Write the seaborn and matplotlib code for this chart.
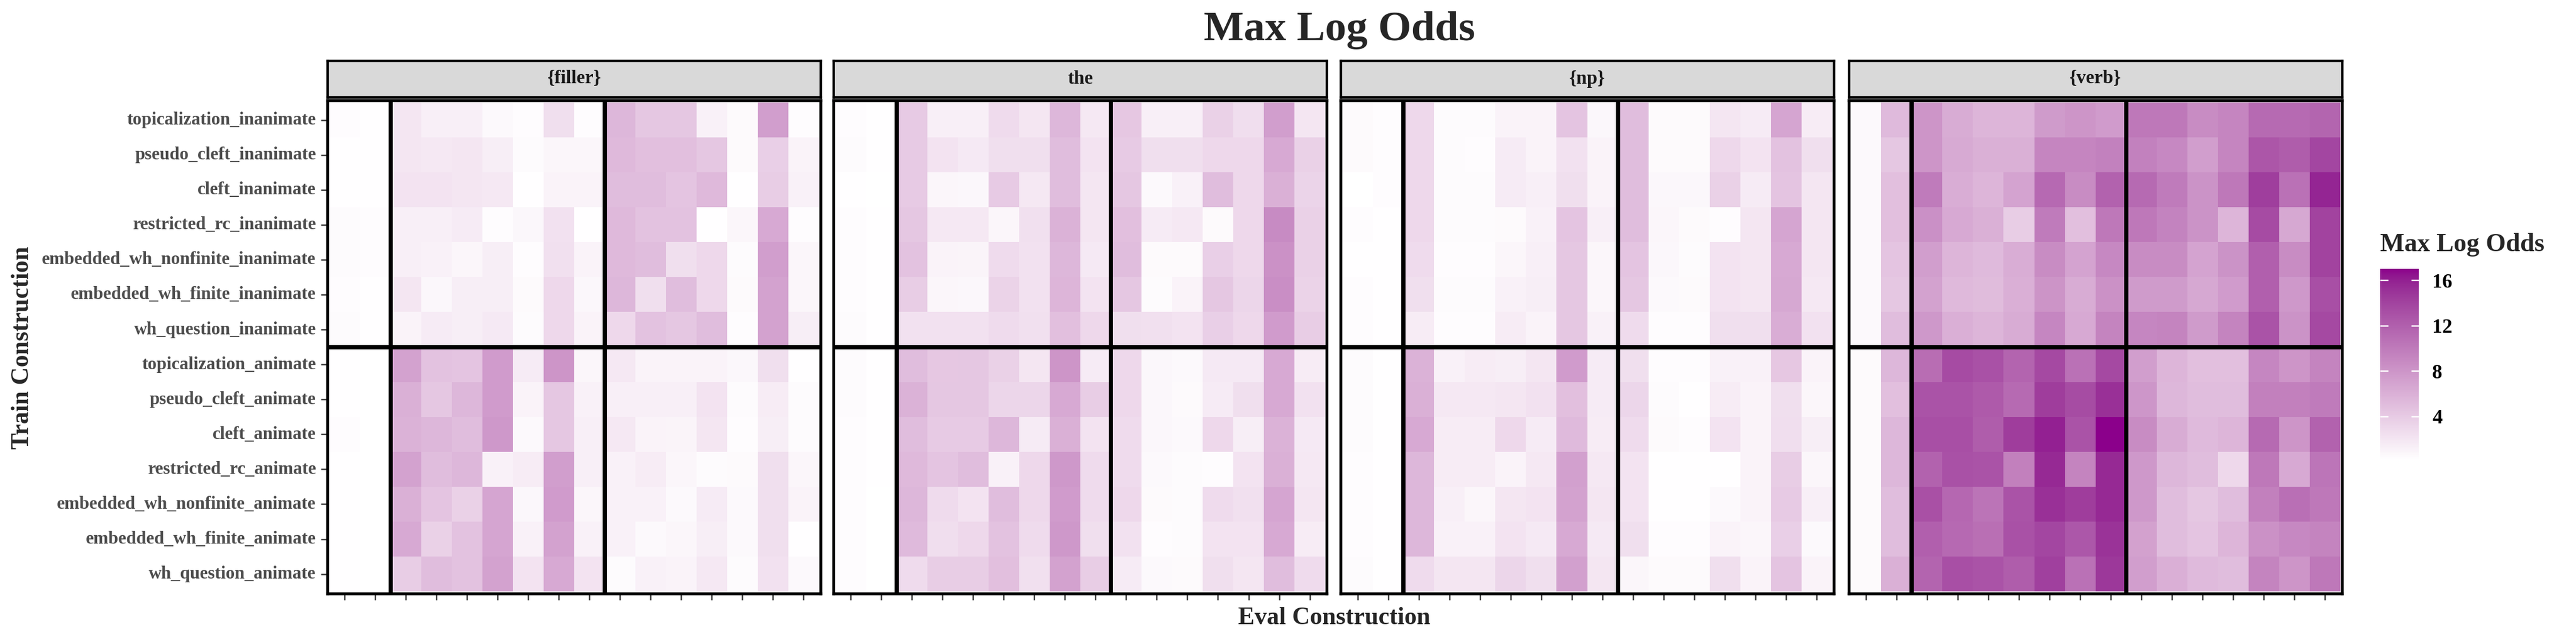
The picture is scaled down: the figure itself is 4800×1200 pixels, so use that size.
import numpy as np
import pandas as pd
import matplotlib
matplotlib.use("Agg")
import matplotlib.pyplot as plt
import seaborn as sns
from matplotlib.colors import ListedColormap, Normalize, to_rgb
from matplotlib.cm import ScalarMappable

train_constructions = [
    "topicalization_inanimate", "pseudo_cleft_inanimate", "cleft_inanimate",
    "restricted_rc_inanimate", "embedded_wh_nonfinite_inanimate",
    "embedded_wh_finite_inanimate", "wh_question_inanimate",
    "topicalization_animate", "pseudo_cleft_animate", "cleft_animate",
    "restricted_rc_animate", "embedded_wh_nonfinite_animate",
    "embedded_wh_finite_animate", "wh_question_animate",
]
panel_names = ["{filler}", "the", "{np}", "{verb}"]
colorbar_ticks = [4, 8, 12, 16]

# max log odds, rows = train construction, 16 eval columns (unlabelled)
filler_vals = [
    [0.3, 0.2, 2.0, 1.3, 1.3, 0.6, 0.3, 2.5, 0.3, 5.5, 4.3, 4.3, 1.2, 0.5, 7.3, 0.3],
    [0.2, 0.2, 2.0, 1.8, 2.0, 1.4, 0.4, 0.8, 0.8, 5.3, 4.8, 4.8, 4.3, 0.5, 3.6, 1.0],
    [0.2, 0.2, 2.2, 2.2, 2.0, 1.8, 0.2, 1.0, 1.0, 5.0, 5.0, 4.5, 5.3, 0.2, 3.8, 1.2],
    [0.4, 0.3, 1.3, 1.3, 1.6, 0.3, 0.7, 2.3, 0.2, 5.3, 4.6, 4.6, 0.2, 0.8, 6.5, 0.3],
    [0.4, 0.3, 1.3, 1.2, 0.8, 1.4, 0.3, 2.4, 1.0, 5.3, 5.0, 2.5, 3.0, 0.4, 7.3, 0.8],
    [0.3, 0.2, 2.0, 0.7, 1.4, 1.4, 0.5, 3.0, 0.7, 5.5, 2.5, 5.0, 3.0, 0.5, 7.0, 0.8],
    [0.4, 0.2, 1.0, 1.6, 1.4, 1.7, 0.4, 3.0, 1.0, 3.0, 4.6, 4.3, 5.0, 0.3, 7.0, 1.4],
    [0.2, 0.1, 7.0, 4.6, 4.5, 7.5, 1.6, 8.0, 0.8, 1.8, 1.0, 1.0, 1.0, 0.7, 2.5, 0.2],
    [0.2, 0.1, 6.0, 4.3, 5.5, 7.5, 1.0, 4.3, 1.2, 1.3, 1.3, 1.3, 2.2, 0.4, 1.5, 0.4],
    [0.3, 0.1, 5.8, 5.5, 5.0, 7.8, 0.6, 4.3, 1.3, 1.8, 1.0, 0.9, 2.0, 0.3, 1.4, 0.4],
    [0.2, 0.1, 7.0, 5.0, 5.5, 1.2, 1.5, 7.3, 1.3, 1.2, 1.5, 0.8, 0.4, 0.5, 2.5, 0.8],
    [0.2, 0.1, 6.0, 4.5, 3.5, 6.8, 0.7, 7.5, 0.8, 1.2, 1.2, 0.6, 1.6, 0.6, 2.5, 1.0],
    [0.2, 0.1, 6.5, 3.5, 4.6, 6.8, 1.2, 7.0, 1.2, 1.2, 0.6, 0.8, 1.4, 0.6, 2.5, 0.2],
    [0.2, 0.1, 3.8, 5.0, 4.6, 7.0, 2.2, 6.5, 2.2, 0.4, 1.2, 1.0, 1.8, 0.4, 2.3, 0.6],
]
the_vals = [
    [0.3, 0.2, 4.0, 1.3, 1.3, 2.8, 2.0, 5.5, 1.8, 4.2, 1.3, 1.3, 3.5, 2.6, 7.3, 2.0],
    [0.4, 0.2, 4.0, 2.2, 1.7, 2.5, 2.5, 5.0, 2.2, 4.0, 2.5, 2.5, 3.0, 3.0, 6.5, 3.5],
    [0.2, 0.1, 4.0, 0.8, 0.7, 4.0, 1.8, 5.0, 2.0, 4.3, 0.6, 1.2, 5.0, 3.0, 6.0, 3.3],
    [0.3, 0.2, 4.3, 1.8, 1.8, 0.8, 2.4, 5.8, 2.0, 4.8, 1.6, 1.8, 0.5, 3.0, 8.8, 3.5],
    [0.3, 0.2, 4.6, 1.0, 0.9, 2.8, 2.3, 5.5, 1.7, 5.0, 0.5, 0.5, 3.6, 3.0, 8.3, 3.5],
    [0.3, 0.2, 3.8, 0.8, 0.7, 3.4, 2.3, 5.6, 2.2, 4.3, 0.4, 1.0, 4.3, 3.2, 8.5, 3.4],
    [0.4, 0.2, 2.3, 2.3, 2.3, 2.8, 2.4, 4.8, 3.0, 2.5, 2.4, 2.2, 3.6, 3.0, 7.5, 3.8],
    [0.4, 0.2, 5.0, 4.2, 4.3, 3.5, 2.0, 8.0, 1.6, 3.0, 0.7, 0.6, 1.7, 1.7, 6.5, 1.5],
    [0.4, 0.2, 5.8, 4.3, 4.3, 3.2, 3.2, 6.5, 3.8, 3.0, 0.7, 0.5, 1.6, 2.5, 6.5, 2.3],
    [0.3, 0.2, 5.0, 4.0, 4.0, 5.5, 1.6, 6.0, 2.2, 2.8, 0.7, 0.6, 3.0, 1.4, 5.8, 1.7],
    [0.3, 0.2, 5.3, 4.5, 5.0, 1.2, 3.0, 7.8, 2.8, 2.8, 0.6, 0.4, 0.3, 2.2, 6.0, 1.8],
    [0.3, 0.1, 5.5, 2.8, 2.2, 5.0, 3.0, 7.5, 2.8, 3.0, 0.5, 0.4, 2.8, 2.4, 6.8, 2.0],
    [0.3, 0.1, 5.2, 2.6, 3.0, 4.6, 2.8, 7.8, 2.5, 2.3, 0.3, 0.4, 2.2, 2.2, 6.5, 1.5],
    [0.3, 0.1, 2.8, 3.8, 3.8, 4.8, 2.4, 7.0, 3.8, 1.6, 0.6, 0.5, 2.5, 2.0, 5.0, 2.8],
]
np_vals = [
    [0.5, 0.3, 3.0, 0.4, 0.4, 1.0, 1.0, 4.5, 0.7, 5.0, 0.5, 0.5, 2.0, 1.6, 6.8, 1.5],
    [0.5, 0.3, 3.0, 0.4, 0.3, 1.6, 1.0, 2.3, 1.0, 5.0, 0.5, 0.5, 3.0, 2.2, 4.6, 2.5],
    [0.1, 0.3, 3.0, 0.4, 0.4, 1.6, 1.3, 2.5, 1.0, 5.0, 0.7, 0.7, 3.5, 1.6, 4.5, 2.0],
    [0.3, 0.2, 3.0, 0.4, 0.4, 0.5, 1.2, 4.5, 1.3, 5.0, 0.8, 0.5, 0.3, 2.0, 6.8, 2.0],
    [0.2, 0.2, 2.8, 0.3, 0.3, 0.8, 1.3, 4.3, 0.8, 4.5, 0.7, 0.4, 2.2, 2.0, 6.5, 2.0],
    [0.3, 0.2, 2.5, 0.4, 0.4, 1.2, 1.4, 4.3, 0.8, 4.3, 0.6, 0.5, 2.2, 2.0, 6.6, 1.8],
    [0.3, 0.2, 1.5, 0.3, 0.3, 1.5, 1.0, 4.3, 1.2, 2.8, 0.3, 0.3, 2.5, 2.5, 6.2, 2.3],
    [0.4, 0.2, 5.8, 1.2, 1.5, 1.4, 2.0, 7.5, 1.6, 2.5, 0.3, 0.3, 1.2, 1.2, 4.2, 1.0],
    [0.4, 0.2, 6.0, 1.8, 1.8, 2.0, 2.3, 4.8, 1.6, 3.2, 0.4, 0.2, 1.5, 1.0, 2.5, 0.8],
    [0.4, 0.2, 6.5, 1.5, 1.5, 3.0, 1.6, 5.2, 1.5, 2.8, 0.5, 0.3, 2.2, 1.0, 2.6, 1.4],
    [0.3, 0.2, 5.5, 1.5, 1.5, 1.0, 1.8, 7.2, 1.8, 2.2, 0.2, 0.2, 0.2, 1.0, 3.8, 0.8],
    [0.3, 0.2, 5.5, 1.3, 0.8, 2.0, 2.2, 7.0, 2.0, 2.2, 0.2, 0.2, 0.6, 1.0, 4.0, 1.3],
    [0.3, 0.2, 5.5, 1.2, 1.2, 2.2, 1.7, 6.5, 1.7, 2.5, 0.3, 0.3, 1.0, 0.8, 3.6, 0.6],
    [0.4, 0.2, 2.8, 2.0, 2.0, 3.2, 2.5, 7.2, 2.0, 0.8, 0.5, 0.5, 2.5, 1.0, 4.5, 1.0],
]
verb_vals = [
    [0.6, 5.2, 8.0, 6.3, 5.6, 5.6, 7.6, 8.0, 7.5, 10.2, 10.2, 8.7, 9.2, 11.2, 11.2, 11.6],
    [0.6, 4.3, 8.0, 6.4, 6.0, 6.0, 9.2, 9.2, 9.5, 9.5, 9.0, 7.3, 9.2, 12.7, 12.2, 13.8],
    [0.6, 4.8, 10.0, 6.2, 5.6, 6.9, 11.3, 8.7, 11.8, 11.2, 10.0, 8.2, 10.2, 14.3, 10.7, 15.8],
    [0.6, 4.8, 8.4, 6.5, 6.0, 3.8, 10.0, 4.8, 10.2, 10.2, 9.4, 8.2, 5.6, 13.5, 6.6, 14.0],
    [0.6, 4.5, 7.3, 5.6, 5.2, 6.2, 8.7, 6.9, 9.0, 8.7, 8.7, 6.9, 8.2, 12.0, 8.7, 14.0],
    [0.6, 4.3, 7.0, 5.3, 5.1, 6.1, 8.1, 6.3, 8.3, 7.6, 7.6, 6.6, 7.5, 12.0, 7.8, 13.2],
    [0.6, 5.0, 7.8, 6.1, 5.6, 6.3, 9.1, 6.5, 9.3, 9.1, 9.3, 7.6, 9.3, 12.9, 8.2, 13.6],
    [0.5, 5.5, 11.0, 13.5, 13.0, 11.7, 13.6, 10.7, 13.6, 7.3, 5.6, 4.8, 4.8, 9.1, 8.0, 9.3],
    [0.5, 4.8, 12.9, 12.9, 12.4, 11.2, 14.4, 13.4, 15.2, 7.9, 5.5, 5.0, 5.0, 9.6, 9.6, 10.0],
    [0.5, 5.5, 13.2, 13.2, 12.2, 14.4, 16.0, 12.9, 17.0, 8.7, 6.3, 5.2, 5.6, 11.2, 8.0, 11.8],
    [0.5, 5.5, 11.8, 13.0, 12.9, 9.6, 15.6, 9.3, 15.6, 7.8, 5.5, 5.0, 3.0, 10.2, 6.5, 10.4],
    [0.5, 5.0, 13.1, 11.4, 10.5, 12.9, 15.2, 14.4, 15.6, 7.8, 5.0, 4.3, 5.0, 9.6, 10.8, 10.2],
    [0.5, 5.0, 12.0, 11.3, 10.9, 13.0, 13.8, 12.6, 15.0, 7.1, 5.0, 4.5, 5.6, 8.3, 9.0, 9.3],
    [0.5, 6.0, 11.7, 13.2, 12.9, 12.2, 14.2, 10.7, 14.7, 7.3, 6.1, 5.2, 5.0, 9.3, 8.0, 10.2],
]
panel_vals = [filler_vals, the_vals, np_vals, verb_vals]


# white -> darkmagenta gradient interpolated in CIE Lab (like ggplot)
WHITE_REF = np.array([0.95047, 1.0, 1.08883])
M_XYZ = np.array([[0.4124564, 0.3575761, 0.1804375],
                  [0.2126729, 0.7151522, 0.0721750],
                  [0.0193339, 0.1191920, 0.9503041]])


def to_lab(color):
    rgb = np.array(to_rgb(color))
    lin = np.where(rgb <= 0.04045, rgb / 12.92, ((rgb + 0.055) / 1.055) ** 2.4)
    t = (M_XYZ @ lin) / WHITE_REF
    f = np.where(t > (6 / 29) ** 3, np.cbrt(t), t / (3 * (6 / 29) ** 2) + 4 / 29)
    return np.array([116 * f[1] - 16, 500 * (f[0] - f[1]), 200 * (f[1] - f[2])])


def from_lab(lab):
    fy = (lab[:, 0] + 16) / 116
    f = np.stack([fy + lab[:, 1] / 500, fy, fy - lab[:, 2] / 200], axis=1)
    t = np.where(f > 6 / 29, f ** 3, 3 * (6 / 29) ** 2 * (f - 4 / 29)) * WHITE_REF
    lin = t @ np.linalg.inv(M_XYZ).T
    rgb = np.where(lin <= 0.0031308, 12.92 * lin, 1.055 * np.clip(lin, 0, None) ** (1 / 2.4) - 0.055)
    return np.clip(rgb, 0, 1)


w = np.linspace(0, 1, 256)[:, None]
cmap = ListedColormap(from_lab((1 - w) * to_lab("white") + w * to_lab("darkmagenta")))

all_vals = np.concatenate([np.array(v) for v in panel_vals])
norm = Normalize(vmin=all_vals.min(), vmax=all_vals.max())

sns.set_theme(style="white")
plt.rcParams["font.family"] = ["Liberation Serif", "DejaVu Serif"]
plt.rcParams["font.weight"] = "bold"

fig = plt.figure(figsize=(16, 4), dpi=300)
lefts = [0.1271, 0.3236, 0.5204, 0.7177]
pw = 0.1915
pb, ph = 0.0783, 0.7658

for i, (name, vals) in enumerate(zip(panel_names, panel_vals)):
    df = pd.DataFrame(vals, index=train_constructions)
    ax = fig.add_axes([lefts[i], pb, pw, ph])
    sns.heatmap(df, ax=ax, cmap=cmap, norm=norm, cbar=False,
                xticklabels=True, yticklabels=True)
    ax.set_xlim(-0.06, df.shape[1] + 0.06)
    ax.set_ylim(df.shape[0] + 0.06, -0.06)
    ax.set_xlabel("")
    ax.set_ylabel("")
    ax.axvline(2, color="black", lw=1.9)
    ax.axvline(9, color="black", lw=1.9)
    ax.axhline(7, color="black", lw=1.9)
    for sp in ax.spines.values():
        sp.set_visible(True)
        sp.set_color("black")
        sp.set_linewidth(1.3)
    ax.tick_params(axis="x", bottom=True, labelbottom=False, length=2.9,
                   width=0.6, color="#333333")
    if i == 0:
        ax.tick_params(axis="y", left=True, length=2.9, width=0.6,
                       color="#333333", pad=2.2)
        ax.set_yticklabels(train_constructions, rotation=0, fontsize=8,
                           fontweight="bold", color="#4d4d4d")
    else:
        ax.tick_params(axis="y", left=False, labelleft=False)

    sax = fig.add_axes([lefts[i], 0.849, pw, 0.057])
    sax.set_facecolor("#d9d9d9")
    sax.set_xticks([])
    sax.set_yticks([])
    for sp in sax.spines.values():
        sp.set_visible(True)
        sp.set_color("black")
        sp.set_linewidth(1.1)
    sax.text(0.5, 0.5, name, ha="center", va="center", fontsize=8.5,
             fontweight="bold", color="#1a1a1a", transform=sax.transAxes)

cax = fig.add_axes([0.924, 0.285, 0.015, 0.2975])
cb = fig.colorbar(ScalarMappable(norm=norm, cmap=cmap), cax=cax)
cb.set_ticks(colorbar_ticks)
cb.outline.set_visible(False)
cax.tick_params(length=0, pad=6)
for lab in cax.get_yticklabels():
    lab.set_fontsize(9)
    lab.set_fontweight("bold")
    lab.set_color("black")
for v in colorbar_ticks:
    cax.hlines(v, 0, 0.2, colors="white", lw=0.6)
    cax.hlines(v, 0.8, 1, colors="white", lw=0.6)
fig.text(0.924, 0.62, "Max Log Odds", ha="left", va="center", fontsize=11.5,
         fontweight="bold")

fig.text(0.52, 0.953, "Max Log Odds", ha="center", va="center", fontsize=19,
         fontweight="bold")
fig.text(0.518, 0.04, "Eval Construction", ha="center", va="center",
         fontsize=11, fontweight="bold")
fig.text(0.0088, 0.46, "Train Construction", ha="center", va="center",
         rotation=90, fontsize=11, fontweight="bold")

fig.savefig("out.png", dpi=300)
